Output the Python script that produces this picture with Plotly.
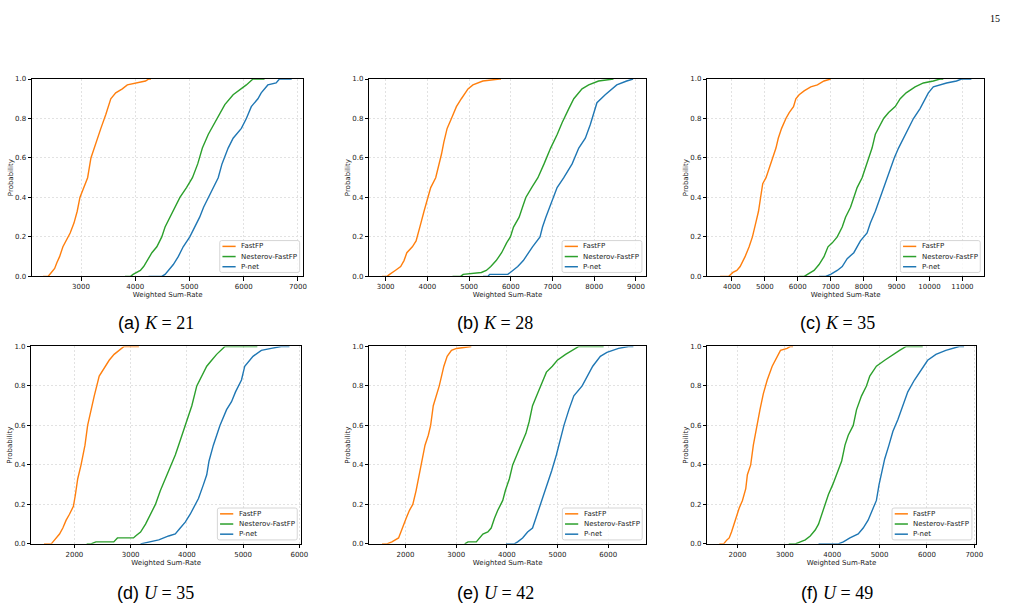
import plotly.graph_objects as go

W, H = 1019, 612

series_names = ["FastFP", "Nesterov-FastFP", "P-net"]
series_colors = ["#ff7f0e", "#2ca02c", "#1f77b4"]
panel_labels = ["(a)", "(b)", "(c)", "(d)", "(e)", "(f)"]
panel_vars = ["K", "K", "K", "U", "U", "U"]
panel_values = [21, 28, 35, 35, 42, 49]
y_ticks = [0.0, 0.2, 0.4, 0.6, 0.8, 1.0]

# ---- (a) K = 21 ----
a_fastfp_rate = [2301, 2392, 2453, 2514, 2556, 2605, 2666, 2726, 2800, 2870, 2930, 2980, 3050, 3122, 3183, 3274, 3366, 3457, 3549, 3640, 3762, 3854, 4006, 4189, 4250, 4290]
a_fastfp_prob = [0, 0, 0.02, 0.04, 0.07, 0.1, 0.15, 0.18, 0.22, 0.27, 0.33, 0.4, 0.45, 0.5, 0.6, 0.68, 0.75, 0.82, 0.9, 0.93, 0.95, 0.97, 0.98, 0.99, 1.0, 1.0]
a_nesterov_rate = [3809, 3915, 3960, 4020, 4094, 4155, 4216, 4307, 4398, 4489, 4550, 4641, 4733, 4824, 4945, 5055, 5152, 5238, 5348, 5470, 5561, 5652, 5805, 5957, 6049, 6171, 6384]
a_nesterov_prob = [0, 0, 0.01, 0.02, 0.03, 0.05, 0.08, 0.12, 0.15, 0.2, 0.25, 0.3, 0.35, 0.4, 0.45, 0.5, 0.57, 0.65, 0.72, 0.78, 0.82, 0.87, 0.92, 0.95, 0.97, 1.0, 1.0]
a_pnet_rate = [4246, 4489, 4550, 4611, 4702, 4793, 4884, 5006, 5097, 5188, 5260, 5350, 5440, 5530, 5600, 5713, 5805, 5957, 6049, 6140, 6262, 6323, 6445, 6598, 6659, 6885]
a_pnet_prob = [0, 0, 0.01, 0.03, 0.06, 0.1, 0.15, 0.2, 0.25, 0.3, 0.35, 0.4, 0.45, 0.5, 0.57, 0.65, 0.7, 0.75, 0.8, 0.86, 0.9, 0.93, 0.97, 0.98, 1.0, 1.0]

# ---- (b) K = 28 ----
b_fastfp_rate = [2913, 3032, 3095, 3151, 3230, 3360, 3440, 3508, 3640, 3730, 3786, 3845, 3920, 4010, 4080, 4200, 4260, 4339, 4395, 4474, 4577, 4696, 4815, 4974, 5092, 5330, 5726, 5766]
b_fastfp_prob = [0, 0, 0.01, 0.02, 0.03, 0.05, 0.08, 0.12, 0.15, 0.18, 0.22, 0.27, 0.33, 0.4, 0.45, 0.5, 0.55, 0.62, 0.68, 0.75, 0.8, 0.86, 0.9, 0.95, 0.97, 0.99, 1.0, 1.0]
b_nesterov_rate = [4603, 4800, 4857, 5175, 5294, 5413, 5520, 5650, 5780, 5900, 5990, 6065, 6200, 6280, 6360, 6500, 6650, 6797, 6955, 7114, 7232, 7391, 7510, 7708, 7867, 8104, 8421, 8461]
b_nesterov_prob = [0, 0, 0.01, 0.015, 0.02, 0.03, 0.05, 0.08, 0.12, 0.17, 0.2, 0.25, 0.3, 0.35, 0.4, 0.45, 0.5, 0.57, 0.65, 0.72, 0.78, 0.85, 0.9, 0.95, 0.97, 0.99, 1.0, 1.0]
b_pnet_rate = [5333, 5452, 5492, 5929, 6048, 6167, 6300, 6420, 6520, 6700, 6760, 6840, 6935, 7020, 7110, 7270, 7470, 7629, 7787, 7906, 7985, 8065, 8263, 8421, 8540, 8778, 8931]
b_pnet_prob = [0, 0, 0.01, 0.01, 0.03, 0.05, 0.08, 0.12, 0.15, 0.2, 0.25, 0.3, 0.35, 0.4, 0.45, 0.5, 0.57, 0.65, 0.7, 0.77, 0.82, 0.88, 0.92, 0.95, 0.97, 0.99, 1.0]

# ---- (c) K = 35 ----
c_fastfp_rate = [3640, 3899, 4030, 4150, 4250, 4400, 4523, 4623, 4723, 4808, 4872, 4936, 5036, 5137, 5237, 5338, 5408, 5509, 5640, 5740, 5871, 5942, 6042, 6193, 6394, 6596, 6797, 6998]
c_fastfp_prob = [0, 0, 0.02, 0.03, 0.05, 0.1, 0.15, 0.2, 0.27, 0.33, 0.4, 0.47, 0.5, 0.55, 0.6, 0.65, 0.7, 0.75, 0.8, 0.83, 0.86, 0.9, 0.92, 0.94, 0.96, 0.97, 0.99, 1.0]
c_nesterov_rate = [6042, 6200, 6294, 6495, 6646, 6797, 6918, 7048, 7199, 7350, 7451, 7602, 7702, 7803, 7954, 8054, 8155, 8256, 8356, 8457, 8608, 8759, 8960, 9111, 9292, 9563, 9815, 10117, 10318, 10419]
c_nesterov_prob = [0, 0, 0.01, 0.03, 0.06, 0.1, 0.15, 0.17, 0.2, 0.25, 0.3, 0.35, 0.4, 0.45, 0.5, 0.55, 0.6, 0.65, 0.72, 0.75, 0.8, 0.83, 0.86, 0.9, 0.93, 0.96, 0.98, 0.99, 1.0, 1.0]
c_pnet_rate = [6646, 6847, 6998, 7199, 7350, 7501, 7702, 7903, 8105, 8205, 8356, 8507, 8708, 8829, 8930, 9060, 9211, 9362, 9513, 9714, 9865, 9966, 10117, 10519, 10821, 10972, 11272]
c_pnet_prob = [0, 0, 0.01, 0.03, 0.05, 0.09, 0.12, 0.18, 0.22, 0.27, 0.33, 0.4, 0.5, 0.55, 0.6, 0.65, 0.7, 0.75, 0.8, 0.85, 0.9, 0.93, 0.96, 0.98, 0.99, 1.0, 1.0]

# ---- (d) U = 35 ----
d_fastfp_rate = [1459, 1588, 1618, 1676, 1735, 1794, 1853, 1912, 1982, 2018, 2059, 2118, 2188, 2235, 2294, 2353, 2441, 2559, 2618, 2706, 2794, 2882, 3147]
d_fastfp_prob = [0, 0, 0.01, 0.03, 0.05, 0.08, 0.12, 0.15, 0.19, 0.25, 0.33, 0.4, 0.5, 0.6, 0.68, 0.75, 0.85, 0.9, 0.93, 0.96, 0.98, 1.0, 1.0]
d_nesterov_rate = [2218, 2294, 2382, 2700, 2765, 3050, 3088, 3176, 3265, 3353, 3441, 3529, 3618, 3724, 3794, 3853, 3971, 4041, 4088, 4176, 4265, 4353, 4441, 4529, 4676, 5253]
d_nesterov_prob = [0, 0, 0.01, 0.01, 0.03, 0.03, 0.04, 0.06, 0.1, 0.15, 0.2, 0.27, 0.33, 0.4, 0.45, 0.5, 0.6, 0.65, 0.7, 0.8, 0.85, 0.9, 0.93, 0.96, 1.0, 1.0]
d_pnet_rate = [3176, 3324, 3500, 3676, 3794, 3882, 3971, 4059, 4147, 4206, 4294, 4353, 4394, 4471, 4588, 4706, 4794, 4865, 4971, 5029, 5176, 5324, 5500, 5676, 5824]
d_pnet_prob = [0, 0.01, 0.02, 0.04, 0.05, 0.08, 0.11, 0.15, 0.2, 0.23, 0.3, 0.35, 0.42, 0.5, 0.6, 0.68, 0.72, 0.77, 0.83, 0.9, 0.95, 0.98, 0.99, 1.0, 1.0]

# ---- (e) U = 42 ----
e_fastfp_rate = [1537, 1634, 1732, 1798, 1863, 1909, 1961, 2013, 2078, 2144, 2209, 2274, 2320, 2385, 2450, 2496, 2548, 2614, 2666, 2711, 2757, 2822, 2907, 3005, 3234, 3299]
e_fastfp_prob = [0, 0, 0.01, 0.02, 0.03, 0.06, 0.1, 0.13, 0.17, 0.2, 0.27, 0.35, 0.42, 0.5, 0.55, 0.6, 0.7, 0.75, 0.8, 0.85, 0.9, 0.95, 0.98, 0.99, 1.0, 1.0]
e_nesterov_rate = [3168, 3234, 3397, 3462, 3527, 3625, 3691, 3756, 3821, 3919, 3971, 4050, 4115, 4213, 4311, 4376, 4441, 4507, 4604, 4702, 4781, 4898, 4996, 5159, 5290, 5420, 5910]
e_nesterov_prob = [0, 0.01, 0.01, 0.03, 0.05, 0.06, 0.08, 0.13, 0.17, 0.22, 0.27, 0.33, 0.4, 0.46, 0.52, 0.56, 0.62, 0.7, 0.76, 0.82, 0.87, 0.9, 0.93, 0.96, 0.98, 1.0, 1.0]
e_pnet_rate = [3984, 4148, 4213, 4311, 4409, 4507, 4572, 4637, 4702, 4800, 4885, 4977, 5042, 5127, 5225, 5322, 5486, 5584, 5695, 5845, 5975, 6204, 6400, 6497]
e_pnet_prob = [0, 0, 0.01, 0.03, 0.06, 0.08, 0.13, 0.18, 0.23, 0.3, 0.37, 0.45, 0.52, 0.6, 0.68, 0.75, 0.8, 0.85, 0.9, 0.95, 0.97, 0.99, 1.0, 1.0]

# ---- (f) U = 49 ----
f_fastfp_rate = [1616, 1707, 1777, 1825, 1874, 1930, 1986, 2035, 2105, 2175, 2209, 2279, 2335, 2405, 2475, 2545, 2628, 2733, 2838, 2908, 3047, 3117, 3173]
f_fastfp_prob = [0, 0, 0.02, 0.03, 0.06, 0.1, 0.15, 0.18, 0.22, 0.28, 0.35, 0.4, 0.5, 0.6, 0.68, 0.76, 0.83, 0.9, 0.95, 0.98, 0.99, 1.0, 1.0]
f_nesterov_rate = [3082, 3222, 3327, 3432, 3536, 3641, 3711, 3781, 3851, 3920, 4011, 4095, 4200, 4270, 4339, 4444, 4514, 4619, 4723, 4793, 4933, 5108, 5282, 5422, 5561, 5911]
f_nesterov_prob = [0, 0, 0.01, 0.02, 0.04, 0.07, 0.1, 0.15, 0.2, 0.25, 0.3, 0.35, 0.42, 0.5, 0.55, 0.6, 0.68, 0.75, 0.8, 0.85, 0.9, 0.93, 0.96, 0.98, 1.0, 1.0]
f_pnet_rate = [3711, 4130, 4235, 4374, 4549, 4654, 4758, 4849, 4933, 4989, 5038, 5108, 5198, 5282, 5387, 5492, 5596, 5736, 5876, 6015, 6190, 6399, 6679, 6784]
f_pnet_prob = [0, 0, 0.01, 0.03, 0.05, 0.08, 0.12, 0.17, 0.22, 0.3, 0.35, 0.43, 0.5, 0.57, 0.63, 0.7, 0.77, 0.83, 0.88, 0.93, 0.96, 0.98, 1.0, 1.0]

panels = [
    [(a_fastfp_rate, a_fastfp_prob), (a_nesterov_rate, a_nesterov_prob), (a_pnet_rate, a_pnet_prob)],
    [(b_fastfp_rate, b_fastfp_prob), (b_nesterov_rate, b_nesterov_prob), (b_pnet_rate, b_pnet_prob)],
    [(c_fastfp_rate, c_fastfp_prob), (c_nesterov_rate, c_nesterov_prob), (c_pnet_rate, c_pnet_prob)],
    [(d_fastfp_rate, d_fastfp_prob), (d_nesterov_rate, d_nesterov_prob), (d_pnet_rate, d_pnet_prob)],
    [(e_fastfp_rate, e_fastfp_prob), (e_nesterov_rate, e_nesterov_prob), (e_pnet_rate, e_pnet_prob)],
    [(f_fastfp_rate, f_fastfp_prob), (f_nesterov_rate, f_nesterov_prob), (f_pnet_rate, f_pnet_prob)],
]

# ---- layout (pixels) ----
boxes = [(32.3, 76, 305.7, 276), (372.3, 76, 650.7, 276), (713, 76, 991.7, 276),
         (31.7, 347, 303.3, 547), (372.3, 347, 651, 547), (713, 347, 983.3, 547)]
xranges = [[2097, 7099], [2610, 9231], [3256, 11653], [1236, 6028], [1287, 6744], [1365, 7027]]
caption_pos = [(157, 323), (499, 323), (844, 323), (157, 597), (499, 597), (844, 597)]


def px(x):
    return x / W


def py(y):
    return 1 - y / H


TICKFONT = dict(family="DejaVu Sans", size=7, color="#1a1a1a")

fig = go.Figure()
layout = dict(
    width=W, height=H,
    margin=dict(l=0, r=0, t=0, b=0),
    paper_bgcolor="white", plot_bgcolor="white",
    showlegend=False,
)
shapes = []
annotations = []

for i, series in enumerate(panels):
    n = i + 1
    xa = "x" if n == 1 else f"x{n}"
    ya = "y" if n == 1 else f"y{n}"
    for (rate, prob), name, color in zip(series, series_names, series_colors):
        fig.add_trace(go.Scatter(
            x=rate, y=prob, mode="lines", name=name,
            line=dict(color=color, width=1.4),
            xaxis=xa, yaxis=ya, showlegend=False,
        ))
    x0, y0, x1, y1 = boxes[i]
    common = dict(
        showline=True, mirror=True, linecolor="black", linewidth=1,
        ticks="outside", ticklen=3.5, tickwidth=0.8, tickcolor="black",
        tickfont=TICKFONT, showgrid=True, gridcolor="#e2e2e2", gridwidth=0.6,
        griddash="2px,2px", zeroline=False, layer="above traces",
    )
    layout["xaxis" if n == 1 else f"xaxis{n}"] = dict(
        domain=[px(x0), px(x1)], range=xranges[i], anchor=ya,
        tickmode="linear", tick0=0, dtick=1000, tickformat="d",
        title=dict(text="Weighted Sum-Rate", font=TICKFONT, standoff=1),
        **common)
    layout["yaxis" if n == 1 else f"yaxis{n}"] = dict(
        domain=[py(y1), py(y0)], range=[0, 1], anchor=xa,
        tickmode="array", tickvals=y_ticks, tickformat=".1f",
        title=dict(text="Probability", font=TICKFONT, standoff=0),
        **common)

    # legend box (matplotlib-style, lower right)
    lr = x1 - 3.7
    lb = y1 - 4
    ll = lr - 80.5
    lt = lb - 32.3
    r = 2.0
    path = (f"M {px(ll + r)},{py(lt)} L {px(lr - r)},{py(lt)} Q {px(lr)},{py(lt)} {px(lr)},{py(lt + r)} "
            f"L {px(lr)},{py(lb - r)} Q {px(lr)},{py(lb)} {px(lr - r)},{py(lb)} "
            f"L {px(ll + r)},{py(lb)} Q {px(ll)},{py(lb)} {px(ll)},{py(lb - r)} "
            f"L {px(ll)},{py(lt + r)} Q {px(ll)},{py(lt)} {px(ll + r)},{py(lt)} Z")
    shapes.append(dict(type="path", xref="paper", yref="paper", path=path,
                       fillcolor="rgba(255,255,255,0.8)", line=dict(color="#cccccc", width=0.8),
                       layer="above"))
    for k, (name, color) in enumerate(zip(series_names, series_colors)):
        ry = lt + 5.9 + k * 10.3
        shapes.append(dict(type="line", xref="paper", yref="paper",
                           x0=px(ll + 2.7), x1=px(ll + 16), y0=py(ry), y1=py(ry),
                           line=dict(color=color, width=1.5), layer="above"))
        annotations.append(dict(x=px(ll + 19.6), y=py(ry), xref="paper", yref="paper",
                                text=name, showarrow=False, xanchor="left", yanchor="middle",
                                font=dict(family="DejaVu Sans", size=7, color="#222222")))

    cx, cy = caption_pos[i]
    annotations.append(dict(
        x=px(cx), y=py(cy), xref="paper", yref="paper", showarrow=False,
        xanchor="center", yanchor="middle",
        text=(f"{panel_labels[i]} <span style='font-family:Liberation Serif'><i>{panel_vars[i]}</i>"
              f"&#8197;=&#8197;{panel_values[i]}</span>"),
        font=dict(family="Liberation Sans", size=18, color="black")))

annotations.append(dict(x=px(1003), y=py(15), xref="paper", yref="paper", showarrow=False,
                        xanchor="center", yanchor="middle", text="15",
                        font=dict(family="Liberation Serif", size=10, color="black")))

layout["shapes"] = shapes
layout["annotations"] = annotations
fig.update_layout(**layout)
fig.write_html("out.html")
